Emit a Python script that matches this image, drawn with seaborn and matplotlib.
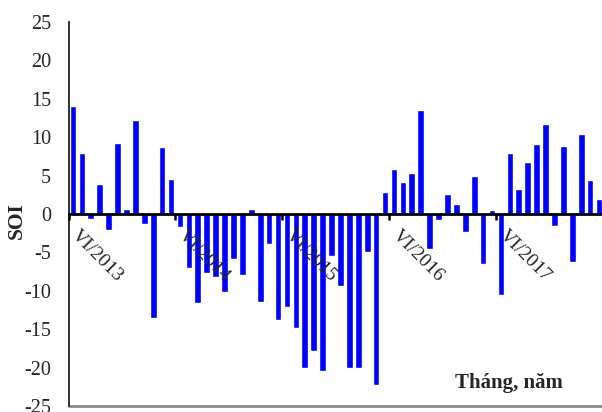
import matplotlib
matplotlib.use("Agg")
import matplotlib.pyplot as plt
import seaborn as sns
import pandas as pd

# monthly SOI, VI/2013 .. V/2018
roman = ["I", "II", "III", "IV", "V", "VI", "VII", "VIII", "IX", "X", "XI", "XII"]
soi = [14.0, 8.0, -0.7, 3.9, -2.1, 9.3, 0.6, 12.2, -1.3, -13.5, 8.7, 4.5,
       -1.7, -7.0, -11.6, -7.7, -8.2, -10.2, -5.8, -8.0, 0.6, -11.4, -3.9, -13.8,
       -12.1, -14.9, -20.0, -17.9, -20.4, -5.5, -9.4, -20.0, -20.0, -4.9, -22.3, 2.8,
       5.8, 4.2, 5.4, 13.5, -4.6, -0.8, 2.6, 1.3, -2.3, 5.0, -6.5, 0.5,
       -10.5, 8.0, 3.2, 6.8, 9.1, 11.7, -1.6, 8.9, -6.2, 10.4, 4.4, 2.0]
months = [f"{roman[(5 + i) % 12]}/{2013 + (5 + i) // 12}" for i in range(len(soi))]
tick_labels = ["VI/2013", "VI/2014", "VI/2015", "VI/2016", "VI/2017"]
yticks = [-25, -20, -15, -10, -5, 0, 5, 10, 15, 20, 25]

df = pd.DataFrame({"month": months, "SOI": soi})

sns.set_style("white")
plt.rcParams["font.family"] = ["Liberation Serif", "DejaVu Serif"]

fig = plt.figure(figsize=(6.02, 4.12), dpi=100, facecolor="white")
ax = fig.add_axes([68.5 / 602, 6 / 412, 535 / 602, 384 / 412])

sns.barplot(data=df, x="month", y="SOI", color="#0000FF",
            saturation=1, width=0.75, ax=ax)
ax.set_axisbelow(False)

ax.set_xlim(-0.5, len(soi) - 0.5)
ax.set_ylim(-25, 25)
ax.set_yticks(yticks)
ax.set_yticklabels([str(v) for v in yticks], fontsize=14.5)

# category axis sits on the zero line
ax.spines["bottom"].set_position(("data", 0))
ax.spines["bottom"].set_color("black")
ax.spines["bottom"].set_linewidth(2)
ax.spines["left"].set_color("#222222")
ax.spines["left"].set_linewidth(1.3)
ax.spines["top"].set_visible(False)
ax.spines["right"].set_visible(False)
ax.axhline(-25, color="#8c8c8c", lw=2, clip_on=False)

# tick marks between categories, labels slightly to the right of them
ax.set_xticks([12 * k - 0.5 for k in range(len(tick_labels))], minor=True)
ax.set_xticks([12 * k + 0.75 for k in range(len(tick_labels))])
ax.set_xticklabels(tick_labels, fontsize=14)
ax.tick_params(axis="x", which="minor", direction="out", length=4, width=1.8,
               color="black", bottom=True)
ax.tick_params(axis="x", which="major", length=0, pad=9.5)
ax.tick_params(axis="y", direction="out", length=5.5, width=1.2, color="#222222", pad=7)
for lab in ax.get_xticklabels():
    lab.set_rotation(-45)
    lab.set_ha("left")
    lab.set_va("top")
    lab.set_rotation_mode("anchor")

ax.set_xlabel("")
ax.set_ylabel("SOI", fontsize=15.5, fontweight="bold")
ax.yaxis.set_label_coords(-0.078, 0.482)
ax.text(0.823, 0.06, "Tháng, năm", transform=ax.transAxes,
        fontsize=15, fontweight="bold", ha="center", va="center")

fig.savefig("out.png", dpi=100, facecolor="white")
